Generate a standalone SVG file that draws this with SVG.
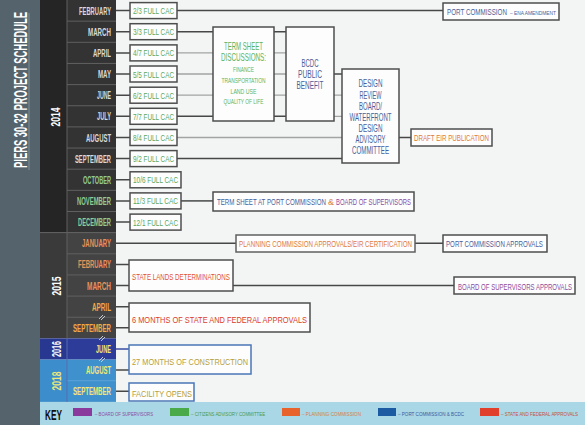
<svg xmlns="http://www.w3.org/2000/svg" width="585" height="425" viewBox="0 0 585 425">
<style>
text{font-family:"Liberation Sans Narrow","Liberation Sans",Arial,sans-serif}
.mo{font-weight:bold;font-size:11px;text-anchor:end}
.yr{font-weight:bold;font-size:13px;text-anchor:middle;fill:#ffffff}
.box{fill:#fdfdfd;stroke:#4d4d4d;stroke-width:1.5}
.bbox{fill:#fdfdfd;stroke:#4a76b6;stroke-width:1.5}
.cac{font-size:9.5px;fill:#5aa860}
.t{font-size:9.5px}
.c{text-anchor:middle}
.dk{stroke:#474747;stroke-width:1.5;fill:none}
.lt{stroke:#a3a3a3;stroke-width:1.3;fill:none}
.sep{stroke:#606060;stroke-width:1}
.k{font-size:6px}
.brk{stroke:#d0d8e0;stroke-width:0.9;fill:none}
</style>
<rect x="0" y="0" width="585" height="425" fill="#f3f5f5"/>

<g id="title">
<rect x="0" y="0" width="40" height="425" fill="#55646c"/>
<line x1="29" y1="13" x2="29" y2="170" stroke="#7f8e96" stroke-width="1"/>
<text transform="translate(27 90) rotate(-90) scale(0.49 1)" text-anchor="middle" font-weight="bold" font-size="19" fill="#ffffff" textLength="318" lengthAdjust="spacingAndGlyphs">PIERS 30-32 PROJECT SCHEDULE</text>
</g>

<g id="timeline">
<rect x="40" y="0" width="27" height="232.6" fill="#252525"/>
<rect x="67" y="0" width="49" height="232.6" fill="#333333"/>
<rect x="40" y="232.6" width="27" height="105.8" fill="#3a3a3a"/>
<rect x="67" y="232.6" width="49" height="105.8" fill="#434343"/>
<rect x="40" y="338.4" width="27" height="21.2" fill="#283891"/>
<rect x="67" y="338.4" width="49" height="21.2" fill="#2c3c98"/>
<rect x="40" y="359.6" width="27" height="42.3" fill="#3b8dcb"/>
<rect x="67" y="359.6" width="49" height="42.3" fill="#3f91cd"/>
<g class="sep">
<line x1="67" y1="21.15" x2="116" y2="21.15"/><line x1="67" y1="42.3" x2="116" y2="42.3"/>
<line x1="67" y1="63.45" x2="116" y2="63.45"/><line x1="67" y1="84.6" x2="116" y2="84.6"/>
<line x1="67" y1="105.75" x2="116" y2="105.75"/><line x1="67" y1="126.9" x2="116" y2="126.9"/>
<line x1="67" y1="148.05" x2="116" y2="148.05"/><line x1="67" y1="169.2" x2="116" y2="169.2"/>
<line x1="67" y1="190.35" x2="116" y2="190.35"/><line x1="67" y1="211.5" x2="116" y2="211.5"/>
<line x1="40" y1="232.65" x2="116" y2="232.65"/><line x1="67" y1="253.8" x2="116" y2="253.8"/>
<line x1="67" y1="274.95" x2="116" y2="274.95"/><line x1="67" y1="296.1" x2="116" y2="296.1"/>
<line x1="67" y1="317.25" x2="116" y2="317.25"/>
<line x1="67" y1="380.7" x2="116" y2="380.7" stroke="#5aa3d8"/>
<line x1="67" y1="0" x2="67" y2="338.4"/>
<line x1="67" y1="338.4" x2="67" y2="401.9" stroke="#5a6ab0"/>
</g>
<path class="brk" d="M99 319 L103 315 M101 320 L105 316"/>
<path class="brk" d="M99 340 L103 336 M101 341 L105 337"/>
<path class="brk" d="M99 361 L103 357 M101 362 L105 358"/>
<text class="yr" transform="translate(60 117) rotate(-90) scale(0.8 1)" textLength="23.75" lengthAdjust="spacingAndGlyphs">2014</text>
<text class="yr" transform="translate(61 286) rotate(-90) scale(0.8 1)" textLength="23.75" lengthAdjust="spacingAndGlyphs">2015</text>
<text class="yr" transform="translate(61 349) rotate(-90) scale(0.8 1)" textLength="20" lengthAdjust="spacingAndGlyphs">2016</text>
<text class="yr" transform="translate(61 381) rotate(-90) scale(0.8 1)" textLength="23.75" lengthAdjust="spacingAndGlyphs" style="fill:#ece77a">2018</text>
<g fill="#d9d9d9">
<text class="mo" transform="translate(111 14.6) scale(0.65 1)" textLength="49.2" lengthAdjust="spacingAndGlyphs">FEBRUARY</text>
<text class="mo" transform="translate(111 35.7) scale(0.65 1)" textLength="35.4" lengthAdjust="spacingAndGlyphs">MARCH</text>
<text class="mo" transform="translate(111 56.9) scale(0.65 1)" textLength="27.7" lengthAdjust="spacingAndGlyphs">APRIL</text>
<text class="mo" transform="translate(111 78) scale(0.65 1)" textLength="20" lengthAdjust="spacingAndGlyphs">MAY</text>
<text class="mo" transform="translate(111 99.2) scale(0.65 1)" textLength="21.5" lengthAdjust="spacingAndGlyphs">JUNE</text>
<text class="mo" transform="translate(111 120.3) scale(0.65 1)" textLength="21.5" lengthAdjust="spacingAndGlyphs">JULY</text>
<text class="mo" transform="translate(111 141.5) scale(0.65 1)" textLength="38.5" lengthAdjust="spacingAndGlyphs">AUGUST</text>
<text class="mo" transform="translate(111 162.6) scale(0.65 1)" textLength="55.4" lengthAdjust="spacingAndGlyphs">SEPTEMBER</text>
</g>
<g fill="#8fcc96">
<text class="mo" transform="translate(111 183.8) scale(0.65 1)" textLength="43.1" lengthAdjust="spacingAndGlyphs">OCTOBER</text>
<text class="mo" transform="translate(111 204.9) scale(0.65 1)" textLength="52.3" lengthAdjust="spacingAndGlyphs">NOVEMBER</text>
<text class="mo" transform="translate(111 226.1) scale(0.65 1)" textLength="50.8" lengthAdjust="spacingAndGlyphs">DECEMBER</text>
</g>
<g fill="#e8925a">
<text class="mo" transform="translate(111 247.2) scale(0.65 1)" textLength="44.6" lengthAdjust="spacingAndGlyphs">JANUARY</text>
<text class="mo" transform="translate(111 268.4) scale(0.65 1)" textLength="50.8" lengthAdjust="spacingAndGlyphs">FEBRUARY</text>
<text class="mo" transform="translate(111 289.5) scale(0.65 1)" textLength="36.9" lengthAdjust="spacingAndGlyphs">MARCH</text>
</g>
<g fill="#f0aa46">
<text class="mo" transform="translate(111 310.7) scale(0.65 1)" textLength="29.2" lengthAdjust="spacingAndGlyphs">APRIL</text>
<text class="mo" transform="translate(111 331.8) scale(0.65 1)" textLength="58.5" lengthAdjust="spacingAndGlyphs">SEPTEMBER</text>
</g>
<g fill="#f3e873">
<text class="mo" transform="translate(111 353) scale(0.65 1)" textLength="23.1" lengthAdjust="spacingAndGlyphs">JUNE</text>
<text class="mo" transform="translate(111 374.1) scale(0.65 1)" textLength="38.5" lengthAdjust="spacingAndGlyphs">AUGUST</text>
<text class="mo" transform="translate(111 395.3) scale(0.65 1)" textLength="58.5" lengthAdjust="spacingAndGlyphs">SEPTEMBER</text>
</g>
</g>

<g id="connectors">
<path class="dk" d="M116 10.6H130 M116 31.7H130 M116 52.9H130 M116 74H130 M116 95.2H130 M116 116.3H130 M116 137.5H130 M116 158.6H130 M116 179.8H130 M116 200.9H130 M116 222.1H130"/>
<path class="dk" d="M177 10.6H443"/>
<path class="dk" d="M177 31.7H213 M274 31.7H286"/>
<path class="lt" d="M177 52.9H213 M274 52.9H286 M177 74H213 M274 74H286 M177 95.2H213 M274 95.2H286"/>
<path class="dk" d="M177 116.3H213 M274 116.3H286"/>
<path class="dk" d="M334 74H342"/>
<path class="lt" d="M334 95.2H342 M334 116.3H342"/>
<path class="lt" d="M177 137.5H342"/>
<path class="dk" d="M177 158.6H342"/>
<path class="dk" d="M399 137.5H411"/>
<path class="dk" d="M181 200.9H213"/>
<path class="dk" d="M116 243.2H236 M415 243.2H443"/>
<path class="dk" d="M116 264.4H129 M116 285.5H129 M233 285.5H454"/>
<path class="dk" d="M116 306.7H129 M116 327.8H129"/>
<path class="dk" d="M116 349H129" style="stroke:#3a4aa0"/>
<path class="dk" d="M116 370.1H129 M116 391.3H129"/>
</g>

<g id="cac-feb"><rect class="box" x="130" y="2.6" width="47" height="16"/><text class="cac" transform="translate(133 14.1) scale(0.81 1)" textLength="50.6" lengthAdjust="spacingAndGlyphs">2/3 FULL CAC</text></g>
<g id="cac-mar"><rect class="box" x="130" y="23.7" width="47" height="16"/><text class="cac" transform="translate(133 35.2) scale(0.81 1)" textLength="50.6" lengthAdjust="spacingAndGlyphs">3/3 FULL CAC</text></g>
<g id="cac-apr"><rect class="box" x="130" y="44.9" width="47" height="16"/><text class="cac" transform="translate(133 56.4) scale(0.81 1)" textLength="50.6" lengthAdjust="spacingAndGlyphs">4/7 FULL CAC</text></g>
<g id="cac-may"><rect class="box" x="130" y="66" width="47" height="16"/><text class="cac" transform="translate(133 77.5) scale(0.81 1)" textLength="50.6" lengthAdjust="spacingAndGlyphs">5/5 FULL CAC</text></g>
<g id="cac-jun"><rect class="box" x="130" y="87.2" width="47" height="16"/><text class="cac" transform="translate(133 98.7) scale(0.81 1)" textLength="50.6" lengthAdjust="spacingAndGlyphs">6/2 FULL CAC</text></g>
<g id="cac-jul"><rect class="box" x="130" y="108.3" width="47" height="16"/><text class="cac" transform="translate(133 119.8) scale(0.81 1)" textLength="50.6" lengthAdjust="spacingAndGlyphs">7/7 FULL CAC</text></g>
<g id="cac-aug"><rect class="box" x="130" y="129.5" width="47" height="16"/><text class="cac" transform="translate(133 141) scale(0.81 1)" textLength="50.6" lengthAdjust="spacingAndGlyphs">8/4 FULL CAC</text></g>
<g id="cac-sep"><rect class="box" x="130" y="150.6" width="47" height="16"/><text class="cac" transform="translate(133 162.1) scale(0.81 1)" textLength="50.6" lengthAdjust="spacingAndGlyphs">9/2 FULL CAC</text></g>
<g id="cac-oct"><rect class="box" x="130" y="171.8" width="51" height="16"/><text class="cac" transform="translate(133 183.3) scale(0.81 1)" textLength="55.6" lengthAdjust="spacingAndGlyphs">10/6 FULL CAC</text></g>
<g id="cac-nov"><rect class="box" x="130" y="192.9" width="51" height="16"/><text class="cac" transform="translate(133 204.4) scale(0.81 1)" textLength="55.6" lengthAdjust="spacingAndGlyphs">11/3 FULL CAC</text></g>
<g id="cac-dec"><rect class="box" x="130" y="214.1" width="51" height="16"/><text class="cac" transform="translate(133 225.6) scale(0.81 1)" textLength="55.6" lengthAdjust="spacingAndGlyphs">12/1 FULL CAC</text></g>

<g id="port-ena"><rect class="box" x="443" y="3" width="116" height="17"/>
<text class="t" transform="translate(447 15) scale(0.62 1)" fill="#4a5f9a" textLength="96.8" lengthAdjust="spacingAndGlyphs">PORT COMMISSION</text>
<text transform="translate(510 14.5) scale(0.7 1)" font-size="6" fill="#4a5f9a" textLength="65.7" lengthAdjust="spacingAndGlyphs">– ENA AMENDMENT</text></g>

<g id="term-sheet"><rect class="box" x="213" y="27" width="61" height="94"/>
<g class="t c" fill="#5cb360">
<text transform="translate(243.5 50) scale(0.76 1)" font-size="10" textLength="51.3" lengthAdjust="spacingAndGlyphs">TERM SHEET</text>
<text transform="translate(243.5 61) scale(0.76 1)" font-size="10" textLength="59.2" lengthAdjust="spacingAndGlyphs">DISCUSSIONS:</text>
<text transform="translate(243.5 71.5) scale(0.83 1)" font-size="7" textLength="25.3" lengthAdjust="spacingAndGlyphs">FINANCE</text>
<text transform="translate(243.5 82.5) scale(0.83 1)" font-size="7" textLength="53" lengthAdjust="spacingAndGlyphs">TRANSPORTATION</text>
<text transform="translate(243.5 93.5) scale(0.83 1)" font-size="7" textLength="31.3" lengthAdjust="spacingAndGlyphs">LAND USE</text>
<text transform="translate(243.5 104) scale(0.83 1)" font-size="7" textLength="48.2" lengthAdjust="spacingAndGlyphs">QUALITY OF LIFE</text>
</g></g>

<g id="bcdc"><rect class="box" x="286" y="27" width="48" height="94"/>
<g class="t c" fill="#4a5f9a">
<text transform="translate(310 67) scale(0.76 1)" font-size="10" textLength="22.4" lengthAdjust="spacingAndGlyphs">BCDC</text>
<text transform="translate(310 78) scale(0.76 1)" font-size="10" textLength="31.6" lengthAdjust="spacingAndGlyphs">PUBLIC</text>
<text transform="translate(310 89) scale(0.76 1)" font-size="10" textLength="35.5" lengthAdjust="spacingAndGlyphs">BENEFIT</text>
</g></g>

<g id="design-review"><rect class="box" x="342" y="69" width="57" height="94"/>
<g class="t c" fill="#4a5f9a">
<text transform="translate(370.5 87) scale(0.76 1)" font-size="10" textLength="31.6" lengthAdjust="spacingAndGlyphs">DESIGN</text>
<text transform="translate(370.5 98.5) scale(0.76 1)" font-size="10" textLength="28.9" lengthAdjust="spacingAndGlyphs">REVIEW</text>
<text transform="translate(370.5 109.5) scale(0.76 1)" font-size="10" textLength="30.3" lengthAdjust="spacingAndGlyphs">BOARD/</text>
<text transform="translate(370.5 120.5) scale(0.76 1)" font-size="10" textLength="55.3" lengthAdjust="spacingAndGlyphs">WATERFRONT</text>
<text transform="translate(370.5 131.5) scale(0.76 1)" font-size="10" textLength="31.6" lengthAdjust="spacingAndGlyphs">DESIGN</text>
<text transform="translate(370.5 142.5) scale(0.76 1)" font-size="10" textLength="39.5" lengthAdjust="spacingAndGlyphs">ADVISORY</text>
<text transform="translate(370.5 153.5) scale(0.76 1)" font-size="10" textLength="48.7" lengthAdjust="spacingAndGlyphs">COMMITTEE</text>
</g></g>

<g id="draft-eir"><rect class="box" x="411" y="129" width="81" height="17"/>
<text class="t" transform="translate(414 141) scale(0.76 1)" fill="#e07b3a" textLength="98.7" lengthAdjust="spacingAndGlyphs">DRAFT EIR PUBLICATION</text></g>

<g id="term-sheet-port"><rect class="box" x="213" y="192" width="201" height="19"/>
<text class="t" transform="translate(217 205) scale(0.62 1)" fill="#4a5f9a" textLength="175.8" lengthAdjust="spacingAndGlyphs">TERM SHEET AT PORT COMMISSION</text>
<text class="t" transform="translate(328 205) scale(0.62 1)" fill="#d9803e" textLength="9.7" lengthAdjust="spacingAndGlyphs">&amp;</text>
<text class="t" transform="translate(336 205) scale(0.62 1)" fill="#8b4c9e" textLength="121" lengthAdjust="spacingAndGlyphs">BOARD OF SUPERVISORS</text></g>

<g id="planning"><rect class="box" x="236" y="235" width="179" height="17" style="stroke:#5f5f5f"/>
<text class="t" transform="translate(239 247) scale(0.76 1)" fill="#e07b3a" textLength="227.6" lengthAdjust="spacingAndGlyphs">PLANNING COMMISSION APPROVALS/EIR CERTIFICATION</text></g>

<g id="port-approvals"><rect class="box" x="443" y="235" width="104" height="17"/>
<text class="t" transform="translate(446 247) scale(0.76 1)" fill="#4a5f9a" textLength="127.6" lengthAdjust="spacingAndGlyphs">PORT COMMISSION APPROVALS</text></g>

<g id="state-lands"><rect class="box" x="129" y="260" width="104" height="31"/>
<text class="t" transform="translate(132 279.5) scale(0.76 1)" fill="#df5233" textLength="128.9" lengthAdjust="spacingAndGlyphs">STATE LANDS DETERMINATIONS</text></g>

<g id="bos-approvals"><rect class="box" x="454" y="277" width="121" height="17"/>
<text class="t" transform="translate(458 289.5) scale(0.62 1)" fill="#8b4c9e" textLength="183.9" lengthAdjust="spacingAndGlyphs">BOARD OF SUPERVISORS APPROVALS</text></g>

<g id="six-months"><rect class="box" x="129" y="303" width="181" height="29"/>
<text class="t" transform="translate(132 322.5) scale(0.68 1)" font-size="12.5" fill="#d9402b" textLength="257.4" lengthAdjust="spacingAndGlyphs">6 MONTHS OF STATE AND FEDERAL APPROVALS</text></g>

<g id="construction"><rect class="bbox" x="129" y="345" width="122" height="29"/>
<text class="t" transform="translate(132 364.5) scale(0.69 1)" font-size="12.5" fill="#b59f3b" textLength="168.1" lengthAdjust="spacingAndGlyphs">27 MONTHS OF CONSTRUCTION</text></g>

<g id="facility"><rect class="bbox" x="129" y="383" width="65" height="18"/>
<text class="t" transform="translate(132 396.5) scale(0.72 1)" font-size="11" fill="#b59f3b" textLength="83.3" lengthAdjust="spacingAndGlyphs">FACILITY OPENS</text></g>

<g id="key">
<rect x="40" y="402" width="545" height="23" fill="#a9d7e6"/>
<text transform="translate(45 420) scale(0.72 1)" font-weight="bold" font-size="14" fill="#111111" textLength="23.6" lengthAdjust="spacingAndGlyphs">KEY</text>
<rect x="73" y="408" width="19" height="8" fill="#8a3a9c"/>
<text class="k" transform="translate(95 416) scale(0.81 1)" fill="#8b4c9e" textLength="71.6" lengthAdjust="spacingAndGlyphs">– BOARD OF SUPERVISORS</text>
<rect x="170" y="408" width="19" height="8" fill="#4aaa4a"/>
<text class="k" transform="translate(191 416) scale(0.81 1)" fill="#4a9a50" textLength="91.4" lengthAdjust="spacingAndGlyphs">– CITIZENS ADVISORY COMMITTEE</text>
<rect x="282" y="408" width="18" height="8" fill="#e8622c"/>
<text class="k" transform="translate(302 416) scale(0.81 1)" fill="#d9803e" textLength="72.8" lengthAdjust="spacingAndGlyphs">– PLANNING COMMISSION</text>
<rect x="378" y="408" width="18" height="8" fill="#1c5aa2"/>
<text class="k" transform="translate(398 416) scale(0.81 1)" fill="#3a5aa0" textLength="81.5" lengthAdjust="spacingAndGlyphs">– PORT COMMISSION &amp; BCDC</text>
<rect x="480" y="408" width="19" height="8" fill="#e0402c"/>
<text class="k" transform="translate(501 416) scale(0.81 1)" fill="#c85040" textLength="95.1" lengthAdjust="spacingAndGlyphs">– STATE AND FEDERAL APPROVALS</text>
</g>
</svg>
